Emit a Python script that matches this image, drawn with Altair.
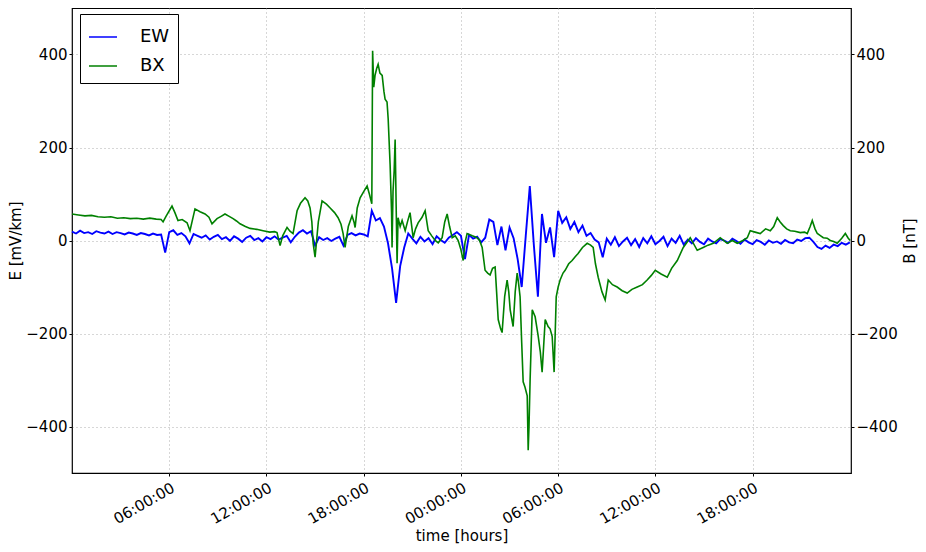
import altair as alt
import pandas as pd

# ---------------- data ----------------
# EW electric field [mV/km], sampled every 0.25 h from t = 0 h
EW_START_H = 0.0
EW_STEP_H = 0.25
EW_VALUES = [
    19, 15, 21, 16, 18, 14, 20, 17, 15, 19, 14, 18, 16, 13, 17, 15, 12, 16, 14, 11, 15, 12, 13,
    -26,
    18, 22, 12, 16, 9, -6, 14, 10, 6, 11, 2, 8, 12, 3, 7, -1, 9, 4, -3, 6, 10, 1, 5, -2, 7, 3,
    9, 2, 6, 10, -4, 8, 17, 22, 15, 20, -11, 7, 1, 5, -1, 4, 8, -11, 12, 16, 11, 15, 13, 9,
    64, 43, 48, 30, -6, -60, -134, -55, -15, 15,
    4, -6, 8, -2, 5, -8, 9, 1, -5, 6,
    12, 18, 10, -40, 12, 4, 8, -4, 6, 45, 40, -10, 30, -21, 28, 5, -40, -100, 10, 117,
    -10, -121, 57, -5, 28, -36, 64, 38, 50, 25, 40, 18, 32, 10, 16, 2,
    -4, -36, 4, -9, 7, -12, -2, 6, -10, 3, -14, 5, -6, 9, -8, -1, 8, -12, 4, -5, 10, -9, 2, -6,
    5, -3, -8, 4, -2, -6, 3, 0, -5, 4, -1, -7, 2, -4, -8, 1, -3, -9, 0, -5, -2, -7, 1, -4, -6,
    2, -1, 5, 6, -3, -14, -18, -11, -16, -9, -12, -5, -9, -4,
]

# BX magnetic field [nT]: (hours, value)
BX_SAMPLES = [
    (0.0, 57), (0.4, 55), (0.8, 53), (1.2, 54), (1.6, 51), (2.0, 50), (2.4, 51), (2.8, 48),
    (3.2, 49), (3.6, 47), (4.0, 48), (4.4, 46), (4.8, 48), (5.2, 46), (5.5, 45), (5.62, 40),
    (5.8, 52), (6.17, 74), (6.35, 60), (6.54, 43), (6.8, 45), (7.1, 38), (7.28, 21), (7.59, 68),
    (7.9, 62), (8.21, 57), (8.45, 50), (8.64, 36), (8.95, 47), (9.2, 52), (9.44, 57), (9.7, 52),
    (9.94, 47), (10.15, 42), (10.37, 36), (10.7, 30), (10.99, 26), (11.4, 24), (11.79, 21),
    (12.2, 18), (12.5, 19), (12.65, 17), (12.84, -11), (13.0, 10), (13.27, 28), (13.45, 20),
    (13.64, 15), (13.89, 64), (14.1, 80), (14.38, 92), (14.55, 85), (14.69, 70), (14.8, 40),
    (14.88, -6), (15.0, -36), (15.2, 40), (15.43, 85), (15.7, 78), (15.93, 70), (16.2, 60),
    (16.42, 49), (16.6, 35), (16.73, 15), (16.85, -15), (17.05, 30), (17.28, 53), (17.4, 40),
    (17.47, 28), (17.6, 70), (17.78, 92), (18.0, 105), (18.21, 117), (18.35, 100), (18.5, 79),
    (18.55, 408), (18.62, 330), (18.7, 355), (18.8, 370), (18.89, 379), (19.0, 360),
    (19.14, 355), (19.25, 320), (19.32, 304), (19.44, 298), (19.51, 262), (19.63, 163),
    (19.72, 60), (19.75, -15), (19.81, 106), (19.88, 150), (19.94, 217), (20.0, 80),
    (20.06, -49), (20.12, 49), (20.25, 30), (20.37, 43), (20.56, 21), (20.7, 40), (20.86, 60),
    (21.05, 6), (21.2, 25), (21.36, 38), (21.6, 50), (21.79, 64), (21.98, 21), (22.2, 10),
    (22.41, 0), (22.6, -5), (22.84, 6), (23.0, 40), (23.15, 57), (23.3, 30), (23.46, 6),
    (23.65, 10), (23.83, 0), (24.0, -20), (24.14, -43), (24.25, -5), (24.38, 15), (24.7, 10),
    (25.0, 6), (25.15, 0), (25.31, -15), (25.49, -64), (25.65, -70), (25.8, -74), (25.95, -60),
    (26.11, -57), (26.2, -110), (26.3, -170), (26.45, -190), (26.54, -198), (26.7, -120),
    (26.85, -85), (26.95, -110), (27.04, -149), (27.22, -185), (27.35, -110), (27.47, -70),
    (27.55, -90), (27.65, -121), (27.75, -220), (27.84, -304), (27.95, -315), (28.09, -334),
    (28.15, -451), (28.2, -400), (28.27, -298), (28.4, -149), (28.58, -164), (28.77, -206),
    (28.9, -240), (29.01, -283), (29.2, -170), (29.38, -185), (29.5, -190), (29.63, -206),
    (29.75, -283), (29.88, -121), (30.0, -100), (30.12, -85), (30.3, -70), (30.43, -64),
    (30.65, -50), (30.86, -43), (31.05, -35), (31.23, -28), (31.5, -15), (31.79, -6),
    (32.0, -10), (32.16, -15), (32.3, -50), (32.47, -79), (32.7, -110), (32.9, -128),
    (33.09, -85), (33.35, -95), (33.64, -100), (33.95, -108), (34.26, -113), (34.55, -105),
    (34.88, -100), (35.2, -95), (35.49, -85), (35.75, -75), (35.99, -64), (36.35, -72),
    (36.73, -79), (37.0, -60), (37.35, -43), (37.72, -15), (38.15, 6), (38.58, -21),
    (38.95, -15), (39.25, -10), (39.57, -6), (40.0, 6), (40.43, -6), (40.75, 0), (41.05, -6),
    (41.4, 0), (41.67, 6), (41.85, 21), (42.15, 18), (42.47, 15), (42.8, 25), (43.09, 21),
    (43.3, 30), (43.52, 49), (43.7, 40), (43.89, 32), (44.1, 25), (44.32, 21), (44.6, 20),
    (44.94, 17), (45.2, 18), (45.37, 15), (45.55, 30), (45.68, 43), (45.85, 25), (45.99, 15),
    (46.2, 10), (46.36, 6), (46.6, 5), (46.79, 0), (47.0, -2), (47.22, -6), (47.5, 5),
    (47.72, 15), (47.9, 5), (48.02, 0),
]

X_TICK_HOURS = [6, 12, 18, 24, 30, 36, 42]
X_TICK_LABELS = ["06:00:00", "12:00:00", "18:00:00", "00:00:00", "06:00:00", "12:00:00", "18:00:00"]
Y_TICKS = [-400, -200, 0, 200, 400]
SERIES = ["EW", "BX"]
COLORS = ["#0000ff", "#008000"]

# ---------------- frames ----------------
ew_df = pd.DataFrame({
    "hours": [EW_START_H + i * EW_STEP_H for i in range(len(EW_VALUES))],
    "value": EW_VALUES,
    "series": "EW",
})
bx_df = pd.DataFrame({
    "hours": [h for h, _ in BX_SAMPLES],
    "value": [v for _, v in BX_SAMPLES],
    "series": "BX",
})

FONT = "DejaVu Sans"
label_expr = "[" + ",".join("'%s'" % s for s in X_TICK_LABELS) + "][indexof([" + \
    ",".join(str(h) for h in X_TICK_HOURS) + "], datum.value)]"

common_axis = dict(
    labelFont=FONT, labelFontSize=15, labelColor="black",
    titleFont=FONT, titleFontSize=15, titleColor="black", titleFontWeight="normal",
    tickColor="black", tickSize=3, domain=False,
    gridColor="#999999", gridDash=[1, 3], gridWidth=0.8,
)

x_enc = alt.X("hours:Q", scale=alt.Scale(domain=[0, 48.07], nice=False, zero=False),
              axis=alt.Axis(title="time [hours]", values=X_TICK_HOURS, labelExpr=label_expr,
                            labelAngle=330, labelAlign="right", labelBaseline="top",
                            labelPadding=4, titlePadding=2, grid=True, **common_axis))

color = alt.Color(
    "series:N",
    scale=alt.Scale(domain=SERIES, range=COLORS),
    legend=alt.Legend(
        title=None, orient="none", legendX=8, legendY=6,
        symbolType="stroke", symbolSize=784, symbolStrokeWidth=1.5,
        labelFontSize=18, labelFont=FONT, labelColor="black", labelOffset=22,
        rowPadding=5, padding=8, strokeColor="black", fillColor="white",
        cornerRadius=0,
    ),
)

ew_layer = alt.Chart(ew_df).mark_line(strokeWidth=1.9).encode(
    x=x_enc,
    y=alt.Y("value:Q", scale=alt.Scale(domain=[-500, 500], nice=False), axis=alt.Axis(
        title="E [mV/km]", values=Y_TICKS, orient="left", grid=True,
        labelPadding=2, titlePadding=2, **common_axis)),
    color=color,
)

bx_layer = alt.Chart(bx_df).mark_line(strokeWidth=1.6).encode(
    x=x_enc,
    y=alt.Y("value:Q", scale=alt.Scale(domain=[-500, 500], nice=False), axis=alt.Axis(
        title="B [nT]", values=Y_TICKS, orient="right", grid=False,
        titleAngle=270, titleBaseline="top",
        labelPadding=2, titlePadding=5, **common_axis)),
    color=color,
)

chart = alt.layer(ew_layer, bx_layer).resolve_scale(y="independent").properties(
    width=910, height=536,
    autosize=alt.AutoSizeParams(type="fit", contains="padding"),
    padding={"left": 0, "top": 0, "right": 0, "bottom": 0},
).configure(font=FONT).configure_view(stroke="black", strokeWidth=1.2)

chart.save("out.html", embed_options={"renderer": "svg", "actions": False})
